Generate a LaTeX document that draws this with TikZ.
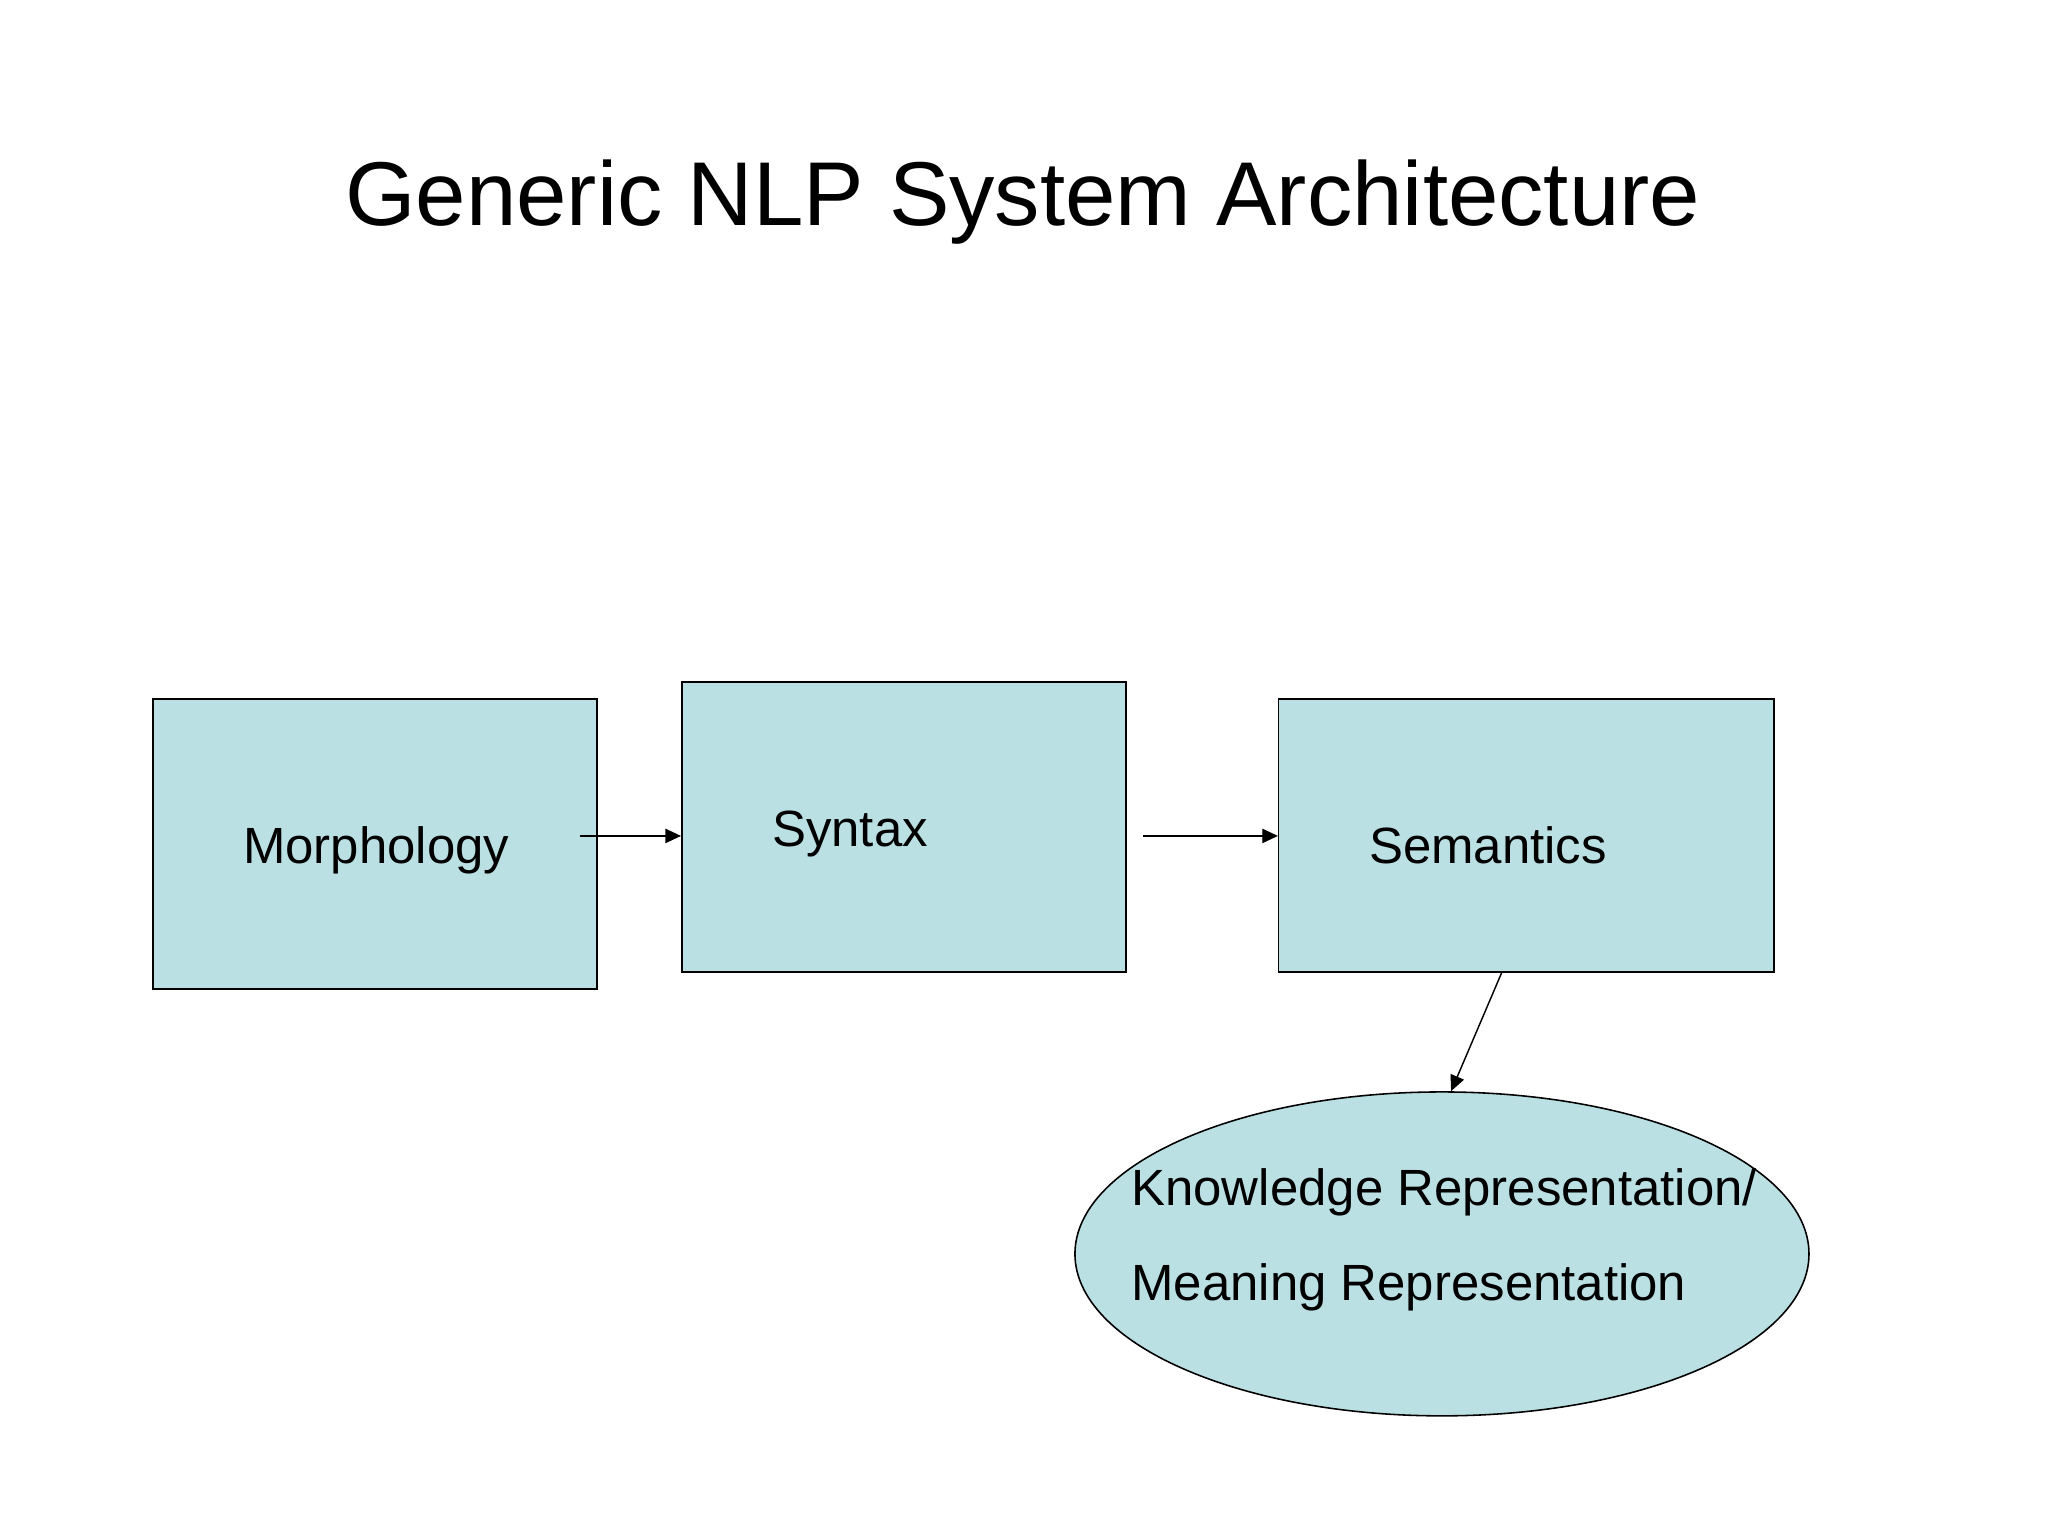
\documentclass[tikz,border=0pt]{standalone}
\usepackage{fontspec}
\setmainfont{Liberation Sans}
\usetikzlibrary{arrows.meta,shapes.geometric}
\definecolor{boxfill}{RGB}{187,224,227}
\begin{document}
\begin{tikzpicture}[x=1pt,y=-1pt,
  stagebox/.style={draw=black,line width=1.2pt,fill=boxfill,rectangle,inner sep=0pt},
  kbox/.style={draw=black,line width=1.2pt,fill=boxfill,ellipse,inner sep=0pt,minimum width=562pt,minimum height=248pt},
  lbl/.style={anchor=base west,inner sep=0pt,font=\fontsize{39}{47}\selectfont},
  conn/.style={line width=1.1pt,-{Triangle[length=12pt,width=11pt]}}]
\useasboundingbox[fill=white] (0,0) rectangle (1568,1176);
\node[anchor=base,inner sep=0pt,font=\fontsize{69.4}{84}\selectfont] (title) at (783,173) {Generic NLP System Architecture};
\node[stagebox,minimum width=340pt,minimum height=222pt] (morph) at (287,646) {};
\node[stagebox,minimum width=340pt,minimum height=222pt] (syn) at (692,633) {};
\node[stagebox,minimum width=379pt,minimum height=209pt] (sem) at (1168.5,639.5) {};
\node[kbox] (kr) at (1104,960) {};
\node[lbl] (morphT) at (186,661) {Morphology};
\node[lbl] (synT) at (591,648) {Syntax};
\node[lbl] (semT) at (1048,661) {Semantics};
\node[lbl] (krT1) at (866,923) {Knowledge Representation/};
\node[lbl] (krT2) at (866,996) {Meaning Representation};
\coordinate (a1) at (444,640);
\coordinate (a2) at (875,640);
\coordinate (a3) at (1150,744);
\draw[conn] (a1) -- (a1 -| syn.west);
\draw[conn] (a2) -- (a2 -| sem.west);
\draw[conn] (a3) -- ([xshift=7pt]kr.north);
\end{tikzpicture}
\end{document}
